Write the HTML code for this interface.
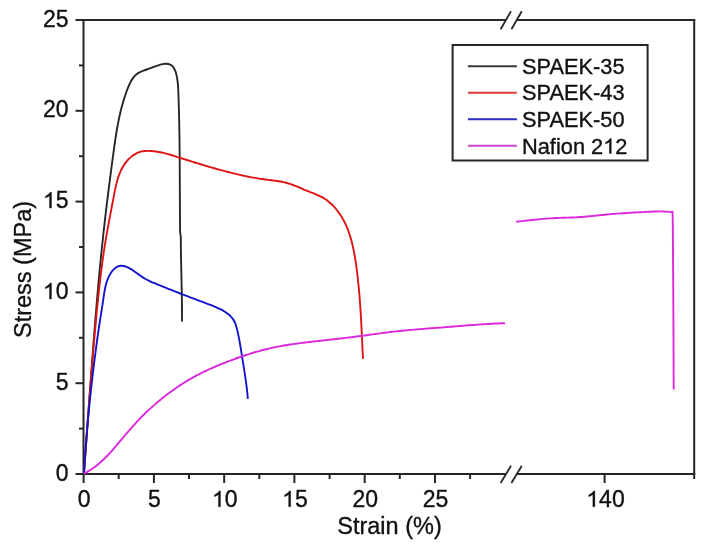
<!DOCTYPE html>
<html><head><meta charset="utf-8"><style>
html,body{margin:0;padding:0;background:#fff;}
svg{display:block;will-change:transform;}
text{font-family:"Liberation Sans",sans-serif;fill:#111;stroke:#111;stroke-width:0.35px;}
.tk{font-size:23.0px;}
.tt{font-size:23.5px;}
.lg{font-size:21.8px;}
.h1{fill:transparent;stroke:none;}
.one{fill:#111;stroke:#111;stroke-width:0.35px;}
</style></head><body>
<svg width="707" height="549" viewBox="0 0 707 549">
<g stroke="#262626" stroke-width="2" fill="none" stroke-linecap="butt">
<line x1="83.5" y1="19" x2="83.5" y2="475"/>
<line x1="694.2" y1="19" x2="694.2" y2="479"/>
<line x1="83.5" y1="20" x2="505.8" y2="20"/>
<line x1="516.6" y1="20" x2="695.2" y2="20"/>
<line x1="83.5" y1="474" x2="505.8" y2="474"/>
<line x1="516.6" y1="474" x2="695.2" y2="474"/>
<line x1="75.5" y1="474.0" x2="83.5" y2="474.0"/>
<line x1="79.0" y1="428.6" x2="83.5" y2="428.6"/>
<line x1="75.5" y1="383.2" x2="83.5" y2="383.2"/>
<line x1="79.0" y1="337.8" x2="83.5" y2="337.8"/>
<line x1="75.5" y1="292.4" x2="83.5" y2="292.4"/>
<line x1="79.0" y1="247.0" x2="83.5" y2="247.0"/>
<line x1="75.5" y1="201.6" x2="83.5" y2="201.6"/>
<line x1="79.0" y1="156.2" x2="83.5" y2="156.2"/>
<line x1="75.5" y1="110.8" x2="83.5" y2="110.8"/>
<line x1="79.0" y1="65.4" x2="83.5" y2="65.4"/>
<line x1="75.5" y1="20.0" x2="83.5" y2="20.0"/>
<line x1="83.6" y1="474" x2="83.6" y2="483"/>
<line x1="118.7" y1="474" x2="118.7" y2="479"/>
<line x1="153.9" y1="474" x2="153.9" y2="483"/>
<line x1="189.0" y1="474" x2="189.0" y2="479"/>
<line x1="224.2" y1="474" x2="224.2" y2="483"/>
<line x1="259.3" y1="474" x2="259.3" y2="479"/>
<line x1="294.4" y1="474" x2="294.4" y2="483"/>
<line x1="329.6" y1="474" x2="329.6" y2="479"/>
<line x1="364.7" y1="474" x2="364.7" y2="483"/>
<line x1="399.8" y1="474" x2="399.8" y2="479"/>
<line x1="435.0" y1="474" x2="435.0" y2="483"/>
<line x1="470.1" y1="474" x2="470.1" y2="479"/>
<line x1="604.6" y1="474" x2="604.6" y2="483"/>
</g>
<g stroke="#262626" stroke-width="1.8" fill="none">
<line x1="500.6" y1="29.3" x2="511.0" y2="11.3"/>
<line x1="511.4" y1="29.3" x2="521.8" y2="11.3"/>
<line x1="500.6" y1="483.0" x2="511.0" y2="465.8"/>
<line x1="511.4" y1="483.0" x2="521.8" y2="465.8"/>
</g>
<path d="M83.86,473.49 C83.90,472.99 84.02,471.48 84.10,470.47 C84.17,469.47 84.25,468.46 84.33,467.46 C84.41,466.45 84.49,465.45 84.56,464.44 C84.64,463.43 84.72,462.43 84.79,461.42 C84.87,460.42 84.95,459.41 85.03,458.41 C85.10,457.40 85.18,456.40 85.25,455.39 C85.33,454.38 85.41,453.38 85.48,452.37 C85.56,451.37 85.63,450.36 85.71,449.36 C85.78,448.35 85.86,447.35 85.93,446.34 C86.01,445.33 86.08,444.33 86.16,443.32 C86.23,442.32 86.31,441.31 86.38,440.31 C86.46,439.30 86.53,438.29 86.60,437.29 C86.68,436.28 86.75,435.28 86.83,434.27 C86.90,433.26 86.97,432.26 87.05,431.25 C87.12,430.25 87.20,429.24 87.27,428.24 C87.34,427.23 87.42,426.22 87.49,425.22 C87.56,424.21 87.63,423.21 87.71,422.20 C87.78,421.19 87.85,420.19 87.93,419.18 C88.00,418.18 88.07,417.17 88.15,416.16 C88.22,415.16 88.29,414.15 88.36,413.15 C88.44,412.14 88.51,411.14 88.58,410.13 C88.66,409.12 88.73,408.12 88.80,407.11 C88.87,406.11 88.95,405.10 89.02,404.09 C89.09,403.09 89.16,402.08 89.24,401.08 C89.31,400.07 89.38,399.06 89.45,398.06 C89.53,397.05 89.60,396.05 89.67,395.04 C89.75,394.03 89.82,393.03 89.89,392.02 C89.96,391.02 90.04,390.01 90.11,389.00 C90.18,388.00 90.26,386.99 90.33,385.99 C90.40,384.98 90.47,383.97 90.55,382.97 C90.62,381.96 90.69,380.96 90.77,379.95 C90.84,378.94 90.91,377.94 90.99,376.93 C91.06,375.93 91.14,374.92 91.21,373.91 C91.28,372.91 91.36,371.90 91.43,370.90 C91.50,369.89 91.58,368.89 91.65,367.88 C91.73,366.87 91.80,365.87 91.88,364.86 C91.95,363.86 92.03,362.85 92.10,361.84 C92.18,360.84 92.25,359.83 92.33,358.83 C92.40,357.82 92.48,356.82 92.55,355.81 C92.63,354.80 92.70,353.80 92.78,352.79 C92.85,351.79 92.93,350.78 93.01,349.78 C93.08,348.77 93.16,347.76 93.24,346.76 C93.31,345.75 93.39,344.75 93.47,343.74 C93.54,342.74 93.62,341.73 93.70,340.72 C93.78,339.72 93.86,338.71 93.93,337.71 C94.01,336.70 94.09,335.70 94.17,334.69 C94.25,333.69 94.33,332.68 94.41,331.68 C94.48,330.67 94.56,329.66 94.64,328.66 C94.72,327.65 94.80,326.65 94.88,325.64 C94.96,324.64 95.04,323.63 95.13,322.63 C95.21,321.62 95.29,320.62 95.37,319.61 C95.45,318.61 95.53,317.60 95.62,316.60 C95.70,315.59 95.78,314.59 95.86,313.58 C95.95,312.58 96.03,311.57 96.11,310.57 C96.20,309.56 96.28,308.56 96.36,307.55 C96.45,306.55 96.53,305.54 96.62,304.54 C96.70,303.53 96.79,302.53 96.87,301.52 C96.96,300.52 97.05,299.51 97.13,298.51 C97.22,297.50 97.31,296.50 97.39,295.49 C97.48,294.49 97.57,293.48 97.66,292.48 C97.75,291.47 97.84,290.47 97.92,289.46 C98.01,288.46 98.10,287.46 98.19,286.45 C98.28,285.45 98.37,284.44 98.46,283.44 C98.56,282.43 98.65,281.43 98.74,280.42 C98.83,279.42 98.92,278.42 99.02,277.41 C99.11,276.41 99.20,275.40 99.30,274.40 C99.39,273.40 99.48,272.39 99.58,271.39 C99.67,270.38 99.77,269.38 99.87,268.38 C99.96,267.37 100.06,266.37 100.15,265.36 C100.25,264.36 100.35,263.36 100.45,262.35 C100.54,261.35 100.64,260.35 100.74,259.34 C100.84,258.34 100.94,257.33 101.04,256.33 C101.14,255.33 101.24,254.32 101.34,253.32 C101.44,252.32 101.55,251.31 101.65,250.31 C101.75,249.31 101.85,248.30 101.96,247.30 C102.06,246.30 102.17,245.29 102.27,244.29 C102.38,243.29 102.48,242.28 102.59,241.28 C102.69,240.28 102.80,239.28 102.91,238.27 C103.01,237.27 103.12,236.27 103.23,235.26 C103.34,234.26 103.45,233.26 103.56,232.26 C103.67,231.25 103.78,230.25 103.89,229.25 C104.00,228.25 104.11,227.24 104.23,226.24 C104.34,225.24 104.45,224.24 104.57,223.23 C104.68,222.23 104.80,221.23 104.91,220.23 C105.03,219.23 105.14,218.22 105.26,217.22 C105.38,216.22 105.49,215.22 105.61,214.22 C105.73,213.21 105.85,212.21 105.97,211.21 C106.09,210.21 106.21,209.21 106.33,208.21 C106.45,207.20 106.57,206.20 106.69,205.20 C106.81,204.20 106.93,203.20 107.06,202.20 C107.18,201.20 107.30,200.19 107.43,199.19 C107.55,198.19 107.67,197.19 107.80,196.19 C107.92,195.19 108.05,194.19 108.18,193.19 C108.30,192.19 108.43,191.19 108.55,190.18 C108.68,189.18 108.81,188.18 108.94,187.18 C109.06,186.18 109.19,185.18 109.32,184.18 C109.45,183.18 109.58,182.18 109.71,181.18 C109.84,180.18 109.97,179.18 110.10,178.18 C110.23,177.18 110.36,176.18 110.49,175.18 C110.62,174.18 110.75,173.18 110.88,172.18 C111.01,171.18 111.14,170.18 111.27,169.18 C111.41,168.18 111.54,167.18 111.67,166.18 C111.80,165.18 111.94,164.18 112.07,163.18 C112.20,162.18 112.34,161.18 112.47,160.18 C112.60,159.18 112.74,158.18 112.87,157.18 C113.00,156.19 113.14,155.19 113.27,154.19 C113.41,153.19 113.54,152.19 113.68,151.19 C113.81,150.19 113.95,149.19 114.09,148.19 C114.22,147.20 114.36,146.20 114.50,145.20 C114.64,144.20 114.79,143.21 114.93,142.21 C115.07,141.21 115.22,140.21 115.37,139.22 C115.52,138.22 115.67,137.23 115.83,136.23 C115.98,135.24 116.14,134.24 116.30,133.25 C116.46,132.25 116.63,131.26 116.80,130.27 C116.96,129.27 117.14,128.28 117.31,127.29 C117.49,126.30 117.67,125.31 117.86,124.32 C118.05,123.33 118.24,122.34 118.43,121.35 C118.63,120.36 118.83,119.38 119.04,118.39 C119.25,117.40 119.46,116.42 119.68,115.43 C119.90,114.45 120.13,113.47 120.36,112.48 C120.59,111.50 120.83,110.52 121.08,109.54 C121.32,108.56 121.58,107.58 121.84,106.60 C122.10,105.63 122.37,104.65 122.64,103.67 C122.92,102.70 123.21,101.73 123.50,100.75 C123.79,99.78 124.09,98.81 124.40,97.84 C124.71,96.87 125.03,95.90 125.36,94.94 C125.69,93.97 126.03,93.00 126.37,92.04 C126.72,91.08 127.08,90.11 127.45,89.16 C127.82,88.20 128.19,87.23 128.59,86.29 C128.98,85.35 129.39,84.40 129.83,83.49 C130.27,82.58 130.72,81.68 131.21,80.82 C131.70,79.96 132.22,79.13 132.78,78.34 C133.34,77.55 133.92,76.80 134.56,76.10 C135.20,75.41 135.88,74.75 136.62,74.17 C137.35,73.58 138.14,73.06 138.97,72.59 C139.79,72.12 140.68,71.71 141.59,71.32 C142.50,70.93 143.46,70.59 144.43,70.24 C145.40,69.89 146.40,69.57 147.41,69.23 C148.41,68.88 149.44,68.53 150.46,68.16 C151.49,67.79 152.52,67.38 153.54,67.00 C154.57,66.61 155.60,66.20 156.61,65.84 C157.63,65.48 158.65,65.12 159.65,64.83 C160.65,64.54 161.64,64.28 162.61,64.10 C163.58,63.93 164.55,63.80 165.48,63.78 C166.42,63.77 167.35,63.82 168.21,64.00 C169.07,64.18 169.92,64.46 170.66,64.87 C171.40,65.28 172.08,65.83 172.68,66.47 C173.28,67.11 173.79,67.89 174.25,68.71 C174.72,69.54 175.11,70.48 175.46,71.43 C175.81,72.39 176.09,73.42 176.35,74.45 C176.61,75.47 176.82,76.55 177.01,77.59 C177.20,78.64 177.35,79.68 177.49,80.72 C177.63,81.75 177.74,82.78 177.84,83.80 C177.94,84.82 178.01,85.84 178.08,86.85 C178.14,87.86 178.19,88.87 178.24,89.88 C178.29,90.88 178.33,91.89 178.37,92.89 C178.41,93.90 178.44,94.91 178.48,95.91 C178.51,96.92 178.55,97.92 178.58,98.93 C178.61,99.93 178.65,100.94 178.68,101.94 C178.71,102.95 178.74,103.96 178.77,104.96 C178.80,105.97 178.83,106.97 178.86,107.98 C178.89,108.99 178.91,109.99 178.94,111.00 C178.97,112.01 178.99,113.01 179.02,114.02 C179.04,115.03 179.06,116.03 179.09,117.04 C179.11,118.05 179.13,119.05 179.15,120.06 C179.18,121.07 179.20,122.08 179.22,123.08 C179.24,124.09 179.26,125.10 179.27,126.11 C179.29,127.11 179.31,128.12 179.33,129.13 C179.35,130.14 179.36,131.14 179.38,132.15 C179.39,133.16 179.41,134.17 179.42,135.17 C179.44,136.18 179.45,137.19 179.47,138.20 C179.48,139.21 179.49,140.21 179.51,141.22 C179.52,142.23 179.53,143.24 179.54,144.25 C179.55,145.26 179.56,146.26 179.58,147.27 C179.59,148.28 179.60,149.29 179.61,150.30 C179.62,151.31 179.62,152.31 179.63,153.32 C179.64,154.33 179.65,155.34 179.66,156.35 C179.67,157.36 179.67,158.37 179.68,159.37 C179.69,160.38 179.70,161.39 179.70,162.40 C179.71,163.41 179.72,164.42 179.72,165.43 C179.73,166.44 179.73,167.44 179.74,168.45 C179.75,169.46 179.75,170.47 179.76,171.48 C179.76,172.49 179.77,173.50 179.77,174.51 C179.78,175.52 179.78,176.52 179.79,177.53 C179.79,178.54 179.80,179.55 179.80,180.56 C179.80,181.57 179.81,182.58 179.81,183.59 C179.82,184.60 179.82,185.61 179.83,186.61 C179.83,187.62 179.83,188.63 179.84,189.64 C179.84,190.65 179.85,191.66 179.85,192.67 C179.86,193.68 179.86,194.69 179.86,195.69 C179.87,196.70 179.87,197.71 179.88,198.72 C179.88,199.73 179.89,200.74 179.89,201.75 C179.89,202.76 179.90,203.77 179.90,204.77 C179.91,205.78 179.91,206.79 179.92,207.80 C179.93,208.81 179.93,209.82 179.94,210.83 C179.94,211.83 179.95,212.84 179.95,213.85 C179.96,214.86 179.97,215.87 179.97,216.88 C179.98,217.89 179.99,218.89 180.00,219.90 C180.00,220.91 180.01,221.92 180.02,222.93 C180.03,223.94 180.04,224.94 180.04,225.95 C180.05,226.96 180.06,227.97 180.07,228.98 C180.08,229.98 179.98,230.66 180.10,232.00 C180.22,233.34 180.68,235.64 180.80,237.00 C180.92,238.36 180.81,239.09 180.81,240.13 C180.82,241.17 180.82,242.22 180.83,243.26 C180.84,244.30 180.85,245.35 180.86,246.39 C180.87,247.43 180.89,248.48 180.90,249.52 C180.91,250.56 180.93,251.61 180.95,252.65 C180.96,253.69 180.98,254.74 181.00,255.78 C181.01,256.82 181.03,257.87 181.05,258.91 C181.07,259.95 181.09,261.00 181.11,262.04 C181.13,263.08 181.16,264.12 181.18,265.17 C181.20,266.21 181.22,267.25 181.24,268.30 C181.27,269.34 181.29,270.38 181.31,271.43 C181.34,272.47 181.36,273.51 181.38,274.56 C181.41,275.60 181.43,276.64 181.45,277.68 C181.48,278.73 181.50,279.77 181.52,280.81 C181.55,281.86 181.57,282.90 181.59,283.94 C181.62,284.99 181.64,286.03 181.66,287.07 C181.68,288.12 181.70,289.16 181.72,290.20 C181.74,291.24 181.76,292.29 181.78,293.33 C181.80,294.37 181.82,295.42 181.84,296.46 C181.85,297.50 181.87,298.55 181.89,299.59 C181.90,300.63 181.92,301.68 181.93,302.72 C181.94,303.76 181.95,304.81 181.96,305.85 C181.97,306.89 181.98,307.94 181.99,308.98 C182.00,310.02 182.00,311.07 182.01,312.11 C182.01,313.15 182.02,314.20 182.02,315.24 C182.02,316.28 182.02,317.33 182.01,318.37 C182.01,319.41 182.00,320.98 182.00,321.50" fill="none" stroke="#262626" stroke-width="1.9" stroke-linejoin="round"/>
<path d="M83.97,473.53 C84.01,473.02 84.11,471.51 84.18,470.50 C84.25,469.50 84.32,468.49 84.39,467.48 C84.46,466.47 84.54,465.47 84.61,464.46 C84.68,463.45 84.75,462.45 84.82,461.44 C84.89,460.43 84.96,459.43 85.03,458.42 C85.10,457.41 85.17,456.41 85.24,455.40 C85.31,454.39 85.38,453.39 85.45,452.38 C85.52,451.37 85.60,450.37 85.67,449.36 C85.74,448.36 85.81,447.35 85.88,446.34 C85.95,445.34 86.02,444.33 86.10,443.33 C86.17,442.32 86.24,441.31 86.31,440.31 C86.38,439.30 86.45,438.30 86.53,437.29 C86.60,436.29 86.67,435.28 86.74,434.28 C86.81,433.27 86.89,432.27 86.96,431.26 C87.03,430.26 87.11,429.25 87.18,428.25 C87.25,427.24 87.32,426.24 87.40,425.23 C87.47,424.23 87.54,423.22 87.62,422.22 C87.69,421.21 87.76,420.21 87.84,419.20 C87.91,418.20 87.99,417.19 88.06,416.19 C88.14,415.18 88.21,414.18 88.28,413.17 C88.36,412.17 88.43,411.17 88.51,410.16 C88.58,409.16 88.66,408.15 88.73,407.15 C88.81,406.14 88.89,405.14 88.96,404.14 C89.04,403.13 89.11,402.13 89.19,401.12 C89.27,400.12 89.34,399.12 89.42,398.11 C89.50,397.11 89.57,396.10 89.65,395.10 C89.73,394.10 89.81,393.09 89.88,392.09 C89.96,391.08 90.04,390.08 90.12,389.08 C90.20,388.07 90.27,387.07 90.35,386.06 C90.43,385.06 90.51,384.06 90.59,383.05 C90.67,382.05 90.75,381.05 90.83,380.04 C90.91,379.04 90.99,378.03 91.07,377.03 C91.15,376.03 91.23,375.02 91.31,374.02 C91.39,373.02 91.47,372.01 91.56,371.01 C91.64,370.00 91.72,369.00 91.80,368.00 C91.88,366.99 91.97,365.99 92.05,364.99 C92.13,363.98 92.21,362.98 92.30,361.98 C92.38,360.97 92.47,359.97 92.55,358.96 C92.63,357.96 92.72,356.96 92.80,355.95 C92.89,354.95 92.97,353.95 93.06,352.94 C93.14,351.94 93.23,350.93 93.32,349.93 C93.40,348.93 93.49,347.92 93.58,346.92 C93.66,345.91 93.75,344.91 93.84,343.91 C93.93,342.90 94.02,341.90 94.10,340.89 C94.19,339.89 94.28,338.89 94.37,337.88 C94.46,336.88 94.55,335.87 94.64,334.87 C94.73,333.87 94.82,332.86 94.91,331.86 C95.00,330.85 95.09,329.85 95.19,328.85 C95.28,327.84 95.37,326.84 95.46,325.83 C95.55,324.83 95.65,323.82 95.74,322.82 C95.83,321.81 95.93,320.81 96.02,319.81 C96.12,318.80 96.21,317.80 96.31,316.79 C96.40,315.79 96.50,314.78 96.59,313.78 C96.69,312.77 96.79,311.77 96.89,310.76 C96.98,309.76 97.08,308.75 97.18,307.75 C97.28,306.74 97.38,305.74 97.48,304.73 C97.58,303.73 97.68,302.73 97.78,301.72 C97.88,300.72 97.98,299.71 98.09,298.71 C98.19,297.70 98.29,296.70 98.40,295.69 C98.51,294.69 98.61,293.69 98.72,292.68 C98.83,291.68 98.93,290.68 99.04,289.67 C99.15,288.67 99.26,287.67 99.37,286.66 C99.49,285.66 99.60,284.66 99.71,283.65 C99.83,282.65 99.94,281.65 100.06,280.65 C100.17,279.65 100.29,278.64 100.41,277.64 C100.53,276.64 100.65,275.64 100.77,274.64 C100.89,273.64 101.02,272.64 101.14,271.64 C101.27,270.64 101.39,269.64 101.52,268.64 C101.65,267.64 101.78,266.64 101.91,265.64 C102.04,264.64 102.17,263.65 102.31,262.65 C102.44,261.65 102.58,260.65 102.72,259.66 C102.85,258.66 102.99,257.67 103.13,256.67 C103.28,255.67 103.42,254.68 103.56,253.68 C103.71,252.69 103.86,251.70 104.01,250.70 C104.16,249.71 104.31,248.72 104.46,247.72 C104.61,246.73 104.77,245.74 104.93,244.75 C105.08,243.76 105.24,242.77 105.41,241.78 C105.57,240.79 105.73,239.80 105.90,238.81 C106.06,237.82 106.23,236.83 106.40,235.84 C106.57,234.86 106.74,233.87 106.92,232.88 C107.09,231.90 107.27,230.91 107.45,229.92 C107.62,228.94 107.80,227.95 107.98,226.96 C108.17,225.98 108.35,224.99 108.53,224.00 C108.71,223.02 108.90,222.03 109.08,221.04 C109.27,220.05 109.46,219.07 109.64,218.08 C109.83,217.09 110.02,216.10 110.21,215.11 C110.40,214.12 110.59,213.13 110.78,212.14 C110.97,211.15 111.16,210.15 111.35,209.16 C111.54,208.17 111.73,207.17 111.92,206.18 C112.11,205.18 112.30,204.18 112.50,203.18 C112.69,202.18 112.88,201.18 113.07,200.18 C113.26,199.18 113.45,198.17 113.64,197.17 C113.83,196.16 114.02,195.16 114.21,194.15 C114.40,193.14 114.60,192.13 114.80,191.13 C115.00,190.12 115.20,189.12 115.42,188.12 C115.63,187.12 115.85,186.12 116.09,185.13 C116.32,184.14 116.56,183.15 116.82,182.17 C117.08,181.19 117.35,180.22 117.64,179.26 C117.93,178.29 118.23,177.33 118.56,176.39 C118.89,175.44 119.23,174.51 119.60,173.58 C119.96,172.66 120.35,171.75 120.77,170.85 C121.18,169.95 121.62,169.07 122.09,168.20 C122.56,167.33 123.05,166.48 123.58,165.64 C124.10,164.80 124.66,163.98 125.25,163.18 C125.84,162.38 126.47,161.60 127.12,160.84 C127.78,160.08 128.48,159.34 129.20,158.64 C129.92,157.93 130.68,157.25 131.46,156.62 C132.25,155.99 133.06,155.39 133.90,154.84 C134.74,154.30 135.60,153.79 136.49,153.35 C137.38,152.91 138.30,152.51 139.23,152.18 C140.16,151.86 141.12,151.59 142.09,151.39 C143.07,151.19 144.06,151.06 145.06,150.96 C146.06,150.87 147.08,150.84 148.09,150.84 C149.11,150.84 150.13,150.89 151.15,150.96 C152.17,151.03 153.19,151.14 154.20,151.27 C155.21,151.39 156.21,151.54 157.21,151.70 C158.21,151.86 159.20,152.05 160.19,152.25 C161.17,152.45 162.16,152.66 163.14,152.89 C164.11,153.12 165.09,153.37 166.06,153.62 C167.03,153.87 168.00,154.14 168.97,154.42 C169.93,154.69 170.89,154.98 171.86,155.26 C172.82,155.55 173.78,155.85 174.74,156.15 C175.70,156.45 176.65,156.75 177.61,157.05 C178.57,157.36 179.53,157.66 180.48,157.97 C181.44,158.27 182.40,158.57 183.36,158.88 C184.32,159.18 185.27,159.48 186.23,159.78 C187.19,160.08 188.15,160.39 189.11,160.69 C190.07,160.99 191.03,161.29 191.99,161.58 C192.95,161.88 193.91,162.18 194.87,162.48 C195.83,162.77 196.79,163.07 197.75,163.37 C198.71,163.66 199.67,163.95 200.64,164.25 C201.60,164.54 202.56,164.83 203.52,165.12 C204.49,165.41 205.45,165.69 206.42,165.98 C207.38,166.27 208.35,166.55 209.31,166.83 C210.28,167.12 211.24,167.40 212.21,167.68 C213.18,167.95 214.14,168.23 215.11,168.51 C216.08,168.78 217.05,169.05 218.02,169.32 C218.99,169.59 219.96,169.86 220.93,170.13 C221.90,170.39 222.87,170.66 223.85,170.92 C224.82,171.18 225.79,171.44 226.77,171.69 C227.74,171.95 228.72,172.20 229.69,172.45 C230.67,172.70 231.65,172.94 232.62,173.18 C233.60,173.42 234.58,173.66 235.56,173.90 C236.54,174.13 237.52,174.36 238.50,174.59 C239.48,174.81 240.47,175.04 241.45,175.25 C242.43,175.47 243.42,175.68 244.41,175.89 C245.39,176.10 246.38,176.30 247.37,176.50 C248.35,176.70 249.34,176.89 250.33,177.08 C251.32,177.27 252.32,177.45 253.31,177.63 C254.30,177.80 255.30,177.97 256.29,178.14 C257.29,178.30 258.28,178.46 259.28,178.61 C260.28,178.77 261.28,178.91 262.28,179.05 C263.28,179.19 264.28,179.32 265.28,179.45 C266.28,179.58 267.29,179.71 268.29,179.83 C269.29,179.96 270.29,180.08 271.29,180.21 C272.30,180.33 273.30,180.46 274.29,180.60 C275.29,180.74 276.29,180.88 277.28,181.03 C278.27,181.18 279.27,181.34 280.25,181.52 C281.24,181.70 282.22,181.88 283.20,182.09 C284.18,182.30 285.15,182.52 286.12,182.76 C287.09,183.00 288.05,183.26 289.01,183.55 C289.97,183.84 290.92,184.15 291.86,184.48 C292.81,184.81 293.74,185.17 294.68,185.54 C295.61,185.91 296.54,186.30 297.47,186.69 C298.40,187.09 299.33,187.50 300.25,187.90 C301.18,188.31 302.11,188.72 303.04,189.13 C303.97,189.53 304.90,189.94 305.83,190.33 C306.77,190.72 307.71,191.10 308.65,191.47 C309.59,191.84 310.54,192.20 311.48,192.56 C312.42,192.93 313.37,193.28 314.30,193.66 C315.24,194.03 316.17,194.40 317.10,194.80 C318.02,195.20 318.93,195.60 319.84,196.04 C320.74,196.47 321.63,196.93 322.50,197.42 C323.37,197.91 324.23,198.44 325.07,198.99 C325.91,199.55 326.73,200.14 327.53,200.75 C328.33,201.37 329.12,202.02 329.88,202.68 C330.65,203.35 331.39,204.04 332.12,204.76 C332.84,205.47 333.55,206.20 334.23,206.95 C334.92,207.70 335.58,208.46 336.22,209.24 C336.87,210.02 337.49,210.81 338.09,211.61 C338.69,212.41 339.27,213.22 339.83,214.05 C340.39,214.87 340.93,215.71 341.45,216.55 C341.98,217.40 342.48,218.26 342.96,219.12 C343.45,219.99 343.92,220.86 344.37,221.75 C344.82,222.63 345.25,223.53 345.67,224.43 C346.09,225.33 346.49,226.24 346.87,227.16 C347.26,228.08 347.63,229.01 347.99,229.94 C348.35,230.87 348.69,231.81 349.02,232.76 C349.35,233.71 349.66,234.66 349.96,235.62 C350.27,236.58 350.56,237.54 350.84,238.51 C351.11,239.48 351.38,240.46 351.64,241.43 C351.89,242.41 352.14,243.40 352.38,244.39 C352.61,245.37 352.84,246.36 353.05,247.36 C353.27,248.35 353.48,249.35 353.68,250.35 C353.88,251.35 354.07,252.35 354.25,253.36 C354.44,254.36 354.61,255.37 354.79,256.38 C354.96,257.38 355.12,258.39 355.28,259.40 C355.44,260.41 355.59,261.42 355.74,262.43 C355.89,263.44 356.03,264.45 356.17,265.46 C356.31,266.47 356.45,267.47 356.59,268.48 C356.72,269.49 356.85,270.49 356.98,271.50 C357.10,272.50 357.23,273.51 357.35,274.51 C357.47,275.51 357.58,276.52 357.70,277.52 C357.81,278.52 357.92,279.52 358.03,280.53 C358.14,281.53 358.24,282.53 358.34,283.53 C358.45,284.53 358.55,285.53 358.64,286.53 C358.74,287.53 358.83,288.53 358.93,289.53 C359.02,290.53 359.11,291.52 359.19,292.52 C359.28,293.52 359.36,294.52 359.45,295.52 C359.53,296.52 359.61,297.51 359.69,298.51 C359.77,299.51 359.84,300.51 359.92,301.51 C359.99,302.50 360.06,303.50 360.13,304.50 C360.20,305.50 360.27,306.49 360.34,307.49 C360.40,308.49 360.47,309.49 360.53,310.49 C360.60,311.49 360.66,312.48 360.72,313.48 C360.78,314.48 360.84,315.48 360.90,316.48 C360.96,317.48 361.01,318.48 361.07,319.48 C361.13,320.48 361.18,321.48 361.23,322.48 C361.29,323.48 361.34,324.49 361.39,325.49 C361.44,326.49 361.50,327.49 361.55,328.50 C361.60,329.50 361.65,330.50 361.70,331.51 C361.75,332.51 361.80,333.52 361.84,334.53 C361.89,335.53 361.94,336.54 361.99,337.55 C362.04,338.56 362.08,339.56 362.13,340.57 C362.18,341.58 362.23,342.59 362.27,343.61 C362.32,344.62 362.37,345.63 362.42,346.65 C362.47,347.66 362.51,348.67 362.56,349.69 C362.61,350.71 362.66,351.72 362.71,352.74 C362.76,353.76 362.81,354.78 362.86,355.80 C362.91,356.82 362.98,358.36 363.01,358.87" fill="none" stroke="#de1414" stroke-width="1.9" stroke-linejoin="round"/>
<path d="M84.04,473.53 C84.07,473.02 84.15,471.49 84.20,470.48 C84.26,469.46 84.32,468.45 84.37,467.43 C84.43,466.42 84.49,465.40 84.55,464.39 C84.61,463.37 84.68,462.36 84.74,461.35 C84.80,460.33 84.87,459.32 84.93,458.30 C85.00,457.29 85.06,456.28 85.13,455.27 C85.20,454.25 85.27,453.24 85.34,452.23 C85.41,451.21 85.48,450.20 85.55,449.19 C85.62,448.18 85.70,447.17 85.77,446.16 C85.85,445.14 85.92,444.13 86.00,443.12 C86.08,442.11 86.15,441.10 86.23,440.09 C86.31,439.08 86.39,438.07 86.47,437.06 C86.55,436.05 86.64,435.04 86.72,434.03 C86.80,433.02 86.89,432.01 86.97,431.00 C87.06,429.99 87.14,428.98 87.23,427.97 C87.32,426.96 87.41,425.95 87.50,424.94 C87.58,423.93 87.68,422.92 87.77,421.91 C87.86,420.90 87.95,419.90 88.04,418.89 C88.14,417.88 88.23,416.87 88.33,415.86 C88.42,414.85 88.52,413.84 88.62,412.84 C88.71,411.83 88.81,410.82 88.91,409.81 C89.01,408.80 89.11,407.79 89.21,406.79 C89.31,405.78 89.41,404.77 89.52,403.76 C89.62,402.75 89.72,401.74 89.83,400.74 C89.93,399.73 90.04,398.72 90.14,397.71 C90.25,396.70 90.36,395.70 90.47,394.69 C90.57,393.68 90.68,392.67 90.79,391.66 C90.90,390.65 91.01,389.65 91.12,388.64 C91.24,387.63 91.35,386.62 91.46,385.61 C91.57,384.60 91.69,383.60 91.80,382.59 C91.92,381.58 92.03,380.57 92.15,379.56 C92.27,378.55 92.38,377.54 92.50,376.54 C92.62,375.53 92.74,374.52 92.86,373.51 C92.98,372.50 93.10,371.49 93.22,370.48 C93.34,369.47 93.46,368.46 93.58,367.45 C93.70,366.44 93.83,365.44 93.95,364.43 C94.08,363.42 94.20,362.41 94.33,361.40 C94.45,360.39 94.58,359.38 94.71,358.37 C94.83,357.36 94.96,356.35 95.09,355.35 C95.22,354.34 95.35,353.33 95.48,352.32 C95.61,351.31 95.75,350.31 95.88,349.30 C96.01,348.29 96.15,347.29 96.28,346.28 C96.42,345.27 96.55,344.27 96.69,343.26 C96.83,342.26 96.97,341.25 97.10,340.25 C97.24,339.25 97.38,338.24 97.53,337.24 C97.67,336.24 97.81,335.24 97.96,334.23 C98.10,333.23 98.24,332.23 98.39,331.23 C98.54,330.23 98.68,329.24 98.83,328.24 C98.98,327.24 99.13,326.24 99.28,325.25 C99.43,324.25 99.59,323.26 99.74,322.26 C99.89,321.27 100.05,320.28 100.20,319.28 C100.36,318.29 100.52,317.30 100.67,316.31 C100.83,315.31 100.99,314.32 101.14,313.32 C101.30,312.33 101.46,311.33 101.61,310.33 C101.77,309.33 101.93,308.33 102.08,307.33 C102.24,306.33 102.39,305.32 102.54,304.31 C102.70,303.30 102.85,302.29 103.00,301.27 C103.15,300.26 103.30,299.23 103.44,298.21 C103.59,297.19 103.74,296.16 103.89,295.13 C104.05,294.10 104.21,293.08 104.38,292.05 C104.55,291.03 104.73,290.01 104.93,288.99 C105.14,287.98 105.35,286.97 105.59,285.97 C105.83,284.97 106.09,283.98 106.38,283.00 C106.67,282.02 106.98,281.05 107.33,280.10 C107.68,279.15 108.06,278.22 108.49,277.30 C108.91,276.39 109.37,275.49 109.87,274.61 C110.38,273.74 110.93,272.87 111.52,272.05 C112.12,271.23 112.77,270.41 113.46,269.69 C114.14,268.96 114.88,268.27 115.65,267.71 C116.42,267.15 117.24,266.66 118.09,266.34 C118.93,266.01 119.83,265.82 120.73,265.76 C121.64,265.69 122.59,265.79 123.54,265.97 C124.48,266.14 125.45,266.45 126.39,266.80 C127.34,267.16 128.29,267.61 129.21,268.09 C130.13,268.56 131.03,269.10 131.91,269.66 C132.79,270.21 133.65,270.81 134.51,271.41 C135.36,272.01 136.20,272.64 137.05,273.25 C137.89,273.87 138.73,274.50 139.57,275.11 C140.42,275.71 141.26,276.32 142.12,276.89 C142.98,277.45 143.85,278.00 144.74,278.51 C145.62,279.02 146.52,279.50 147.42,279.97 C148.32,280.43 149.24,280.87 150.16,281.30 C151.08,281.72 152.00,282.13 152.93,282.53 C153.86,282.93 154.80,283.32 155.73,283.71 C156.66,284.10 157.60,284.48 158.54,284.86 C159.47,285.24 160.41,285.63 161.34,286.01 C162.28,286.38 163.21,286.76 164.15,287.14 C165.08,287.52 166.02,287.89 166.96,288.26 C167.89,288.64 168.83,289.01 169.77,289.38 C170.71,289.75 171.64,290.12 172.58,290.49 C173.52,290.86 174.46,291.23 175.40,291.60 C176.34,291.96 177.28,292.33 178.22,292.69 C179.16,293.06 180.10,293.42 181.04,293.79 C181.98,294.15 182.93,294.52 183.87,294.88 C184.81,295.24 185.76,295.60 186.70,295.97 C187.65,296.33 188.60,296.69 189.54,297.05 C190.49,297.41 191.44,297.77 192.39,298.13 C193.33,298.49 194.28,298.85 195.23,299.21 C196.19,299.57 197.14,299.93 198.09,300.29 C199.04,300.65 200.00,301.01 200.95,301.37 C201.91,301.73 202.86,302.09 203.82,302.45 C204.78,302.81 205.74,303.17 206.70,303.54 C207.66,303.90 208.62,304.26 209.58,304.62 C210.54,304.99 211.50,305.36 212.45,305.73 C213.41,306.11 214.36,306.49 215.30,306.89 C216.24,307.29 217.18,307.70 218.10,308.13 C219.02,308.56 219.93,309.00 220.83,309.46 C221.72,309.93 222.61,310.41 223.47,310.92 C224.33,311.44 225.18,311.97 226.00,312.54 C226.82,313.11 227.63,313.70 228.41,314.33 C229.18,314.96 229.94,315.62 230.64,316.33 C231.34,317.03 232.02,317.77 232.61,318.56 C233.20,319.34 233.74,320.18 234.20,321.05 C234.67,321.91 235.05,322.84 235.41,323.77 C235.76,324.71 236.05,325.69 236.33,326.66 C236.62,327.64 236.86,328.64 237.11,329.63 C237.35,330.62 237.59,331.61 237.81,332.60 C238.04,333.60 238.25,334.59 238.46,335.59 C238.66,336.59 238.86,337.59 239.06,338.59 C239.25,339.59 239.43,340.59 239.61,341.59 C239.79,342.60 239.97,343.60 240.14,344.60 C240.31,345.61 240.48,346.61 240.64,347.61 C240.81,348.62 240.97,349.62 241.13,350.63 C241.29,351.63 241.45,352.63 241.61,353.64 C241.77,354.64 241.92,355.64 242.08,356.64 C242.24,357.65 242.41,358.65 242.57,359.65 C242.73,360.65 242.89,361.65 243.05,362.65 C243.21,363.65 243.37,364.65 243.53,365.65 C243.69,366.64 243.85,367.64 244.01,368.64 C244.17,369.64 244.32,370.64 244.48,371.64 C244.63,372.64 244.78,373.64 244.93,374.64 C245.08,375.64 245.23,376.64 245.38,377.64 C245.52,378.64 245.67,379.64 245.81,380.65 C245.95,381.65 246.08,382.65 246.22,383.66 C246.35,384.66 246.48,385.67 246.60,386.67 C246.72,387.68 246.85,388.69 246.96,389.70 C247.08,390.71 247.19,391.72 247.29,392.73 C247.40,393.74 247.50,394.75 247.59,395.77 C247.69,396.78 247.81,398.31 247.86,398.82" fill="none" stroke="#1414cc" stroke-width="1.9" stroke-linejoin="round"/>
<path d="M83.96,473.60 C84.41,473.36 85.79,472.66 86.69,472.17 C87.58,471.67 88.46,471.15 89.32,470.62 C90.18,470.09 91.03,469.54 91.87,468.97 C92.70,468.41 93.52,467.83 94.33,467.23 C95.14,466.64 95.94,466.03 96.72,465.41 C97.51,464.79 98.28,464.15 99.04,463.50 C99.80,462.86 100.55,462.20 101.29,461.53 C102.04,460.86 102.77,460.18 103.49,459.48 C104.21,458.79 104.93,458.09 105.63,457.38 C106.34,456.68 107.04,455.96 107.73,455.23 C108.42,454.51 109.11,453.77 109.79,453.04 C110.47,452.30 111.15,451.55 111.82,450.80 C112.49,450.05 113.15,449.30 113.81,448.54 C114.48,447.78 115.13,447.02 115.79,446.25 C116.45,445.49 117.10,444.72 117.75,443.95 C118.40,443.18 119.05,442.41 119.71,441.64 C120.36,440.87 121.00,440.10 121.65,439.33 C122.30,438.55 122.95,437.78 123.60,437.01 C124.25,436.24 124.90,435.47 125.56,434.70 C126.21,433.93 126.86,433.16 127.51,432.39 C128.17,431.62 128.82,430.86 129.48,430.10 C130.14,429.33 130.80,428.57 131.47,427.81 C132.13,427.06 132.80,426.30 133.47,425.55 C134.14,424.80 134.81,424.05 135.49,423.31 C136.17,422.56 136.85,421.82 137.54,421.09 C138.23,420.35 138.92,419.62 139.62,418.90 C140.31,418.17 141.01,417.45 141.72,416.74 C142.43,416.02 143.14,415.31 143.86,414.60 C144.57,413.90 145.29,413.20 146.02,412.50 C146.74,411.80 147.47,411.11 148.21,410.42 C148.94,409.73 149.68,409.05 150.43,408.37 C151.17,407.69 151.92,407.02 152.67,406.35 C153.42,405.68 154.18,405.01 154.94,404.35 C155.70,403.69 156.47,403.03 157.24,402.38 C158.00,401.73 158.78,401.08 159.56,400.44 C160.33,399.80 161.11,399.16 161.90,398.53 C162.69,397.89 163.48,397.27 164.27,396.64 C165.06,396.02 165.86,395.40 166.66,394.79 C167.46,394.18 168.27,393.57 169.08,392.97 C169.89,392.37 170.70,391.77 171.52,391.18 C172.34,390.59 173.16,390.00 173.98,389.42 C174.81,388.84 175.64,388.27 176.47,387.70 C177.30,387.13 178.14,386.57 178.98,386.01 C179.82,385.45 180.66,384.90 181.51,384.36 C182.36,383.81 183.21,383.27 184.07,382.74 C184.92,382.20 185.78,381.68 186.64,381.16 C187.50,380.64 188.37,380.12 189.24,379.61 C190.11,379.10 190.98,378.60 191.85,378.11 C192.73,377.61 193.61,377.12 194.49,376.64 C195.38,376.16 196.26,375.68 197.15,375.21 C198.04,374.74 198.93,374.28 199.83,373.82 C200.73,373.37 201.62,372.92 202.53,372.47 C203.43,372.03 204.33,371.59 205.24,371.16 C206.15,370.72 207.06,370.30 207.97,369.87 C208.89,369.45 209.80,369.04 210.72,368.62 C211.64,368.21 212.56,367.81 213.48,367.40 C214.40,367.00 215.33,366.60 216.26,366.21 C217.18,365.82 218.11,365.43 219.04,365.05 C219.97,364.66 220.91,364.28 221.84,363.90 C222.78,363.53 223.71,363.16 224.65,362.79 C225.59,362.42 226.53,362.05 227.47,361.69 C228.41,361.33 229.36,360.97 230.30,360.61 C231.24,360.26 232.19,359.90 233.14,359.55 C234.08,359.20 235.03,358.86 235.98,358.51 C236.93,358.17 237.88,357.83 238.83,357.49 C239.78,357.16 240.73,356.82 241.69,356.50 C242.64,356.17 243.60,355.84 244.56,355.52 C245.51,355.20 246.47,354.89 247.43,354.58 C248.39,354.27 249.35,353.96 250.31,353.66 C251.27,353.36 252.24,353.06 253.20,352.77 C254.17,352.48 255.13,352.19 256.10,351.91 C257.07,351.63 258.04,351.35 259.01,351.08 C259.98,350.81 260.95,350.55 261.92,350.29 C262.89,350.03 263.87,349.78 264.84,349.53 C265.82,349.29 266.80,349.05 267.78,348.82 C268.76,348.58 269.74,348.36 270.72,348.14 C271.70,347.92 272.68,347.70 273.66,347.50 C274.65,347.29 275.63,347.09 276.62,346.89 C277.61,346.70 278.60,346.51 279.58,346.32 C280.57,346.14 281.56,345.96 282.55,345.79 C283.54,345.61 284.54,345.44 285.53,345.28 C286.52,345.11 287.52,344.95 288.51,344.80 C289.51,344.64 290.50,344.49 291.50,344.34 C292.49,344.19 293.49,344.05 294.49,343.90 C295.48,343.76 296.48,343.63 297.48,343.49 C298.48,343.35 299.48,343.22 300.48,343.09 C301.48,342.96 302.48,342.84 303.48,342.71 C304.48,342.59 305.48,342.46 306.48,342.34 C307.48,342.22 308.48,342.10 309.48,341.98 C310.48,341.86 311.49,341.75 312.49,341.63 C313.49,341.52 314.49,341.40 315.49,341.29 C316.49,341.17 317.50,341.06 318.50,340.95 C319.50,340.83 320.50,340.72 321.50,340.61 C322.50,340.50 323.51,340.39 324.51,340.28 C325.51,340.17 326.51,340.05 327.51,339.94 C328.52,339.83 329.52,339.72 330.52,339.61 C331.52,339.50 332.52,339.39 333.52,339.28 C334.53,339.17 335.53,339.05 336.53,338.94 C337.53,338.83 338.53,338.71 339.53,338.60 C340.53,338.49 341.53,338.37 342.54,338.26 C343.54,338.14 344.54,338.02 345.54,337.91 C346.54,337.79 347.54,337.67 348.54,337.55 C349.54,337.43 350.54,337.30 351.54,337.18 C352.54,337.06 353.54,336.93 354.54,336.81 C355.54,336.68 356.54,336.55 357.54,336.42 C358.53,336.29 359.53,336.16 360.53,336.02 C361.53,335.89 362.53,335.76 363.53,335.62 C364.53,335.49 365.52,335.35 366.52,335.21 C367.52,335.08 368.52,334.94 369.52,334.80 C370.51,334.67 371.51,334.53 372.51,334.39 C373.51,334.26 374.51,334.12 375.50,333.98 C376.50,333.85 377.50,333.71 378.50,333.58 C379.50,333.44 380.50,333.31 381.49,333.17 C382.49,333.04 383.49,332.91 384.49,332.78 C385.49,332.65 386.49,332.52 387.49,332.39 C388.49,332.27 389.49,332.14 390.48,332.02 C391.48,331.90 392.48,331.78 393.48,331.66 C394.49,331.54 395.49,331.43 396.49,331.32 C397.49,331.20 398.49,331.09 399.49,330.99 C400.49,330.88 401.49,330.78 402.50,330.68 C403.50,330.58 404.50,330.48 405.50,330.38 C406.51,330.29 407.51,330.19 408.51,330.10 C409.52,330.01 410.52,329.92 411.53,329.83 C412.53,329.75 413.53,329.66 414.54,329.58 C415.54,329.49 416.55,329.41 417.55,329.33 C418.56,329.25 419.56,329.16 420.57,329.09 C421.57,329.01 422.58,328.93 423.58,328.85 C424.59,328.77 425.59,328.69 426.60,328.62 C427.60,328.54 428.61,328.46 429.61,328.39 C430.62,328.31 431.62,328.23 432.63,328.16 C433.63,328.08 434.64,328.01 435.64,327.93 C436.65,327.85 437.65,327.77 438.66,327.70 C439.66,327.62 440.67,327.54 441.67,327.46 C442.68,327.38 443.68,327.30 444.69,327.22 C445.69,327.14 446.70,327.06 447.70,326.98 C448.71,326.89 449.71,326.81 450.72,326.73 C451.72,326.65 452.72,326.57 453.73,326.48 C454.73,326.40 455.74,326.32 456.74,326.24 C457.75,326.16 458.75,326.07 459.76,325.99 C460.76,325.91 461.76,325.83 462.77,325.75 C463.77,325.67 464.78,325.59 465.78,325.51 C466.79,325.43 467.79,325.36 468.79,325.28 C469.80,325.20 470.80,325.12 471.81,325.05 C472.81,324.97 473.82,324.90 474.82,324.83 C475.83,324.75 476.83,324.68 477.84,324.61 C478.84,324.54 479.85,324.48 480.85,324.41 C481.86,324.34 482.86,324.28 483.87,324.21 C484.87,324.15 485.88,324.09 486.88,324.03 C487.89,323.97 488.89,323.91 489.90,323.86 C490.91,323.80 491.91,323.75 492.92,323.70 C493.92,323.65 494.93,323.60 495.94,323.56 C496.94,323.51 497.95,323.47 498.96,323.43 C499.96,323.39 500.97,323.35 501.98,323.31 C502.98,323.28 504.50,323.24 505.00,323.22" fill="none" stroke="#dc28dc" stroke-width="1.9" stroke-linejoin="round"/>
<path d="M516.21,221.78 C516.72,221.73 518.25,221.55 519.26,221.43 C520.28,221.31 521.30,221.19 522.32,221.08 C523.34,220.96 524.36,220.85 525.38,220.73 C526.40,220.62 527.42,220.50 528.44,220.39 C529.46,220.28 530.48,220.17 531.50,220.06 C532.52,219.95 533.54,219.85 534.56,219.74 C535.58,219.64 536.60,219.54 537.62,219.44 C538.64,219.34 539.66,219.25 540.68,219.15 C541.71,219.06 542.73,218.97 543.75,218.89 C544.77,218.80 545.79,218.72 546.82,218.64 C547.84,218.56 548.86,218.48 549.88,218.41 C550.91,218.34 551.93,218.28 552.95,218.21 C553.98,218.15 555.00,218.10 556.02,218.04 C557.05,217.99 558.07,217.94 559.10,217.90 C560.12,217.86 561.15,217.82 562.17,217.79 C563.20,217.75 564.22,217.73 565.25,217.69 C566.27,217.66 567.30,217.64 568.32,217.61 C569.35,217.57 570.37,217.54 571.40,217.51 C572.42,217.47 573.45,217.44 574.47,217.40 C575.50,217.35 576.52,217.31 577.54,217.25 C578.57,217.19 579.59,217.13 580.61,217.06 C581.63,216.99 582.66,216.91 583.68,216.82 C584.70,216.74 585.72,216.65 586.74,216.55 C587.76,216.45 588.78,216.35 589.81,216.24 C590.83,216.14 591.85,216.03 592.87,215.93 C593.89,215.82 594.91,215.71 595.93,215.60 C596.95,215.49 597.97,215.39 598.99,215.28 C600.01,215.18 601.03,215.08 602.05,214.98 C603.07,214.88 604.09,214.78 605.11,214.68 C606.13,214.58 607.16,214.49 608.18,214.39 C609.20,214.30 610.22,214.21 611.24,214.12 C612.26,214.03 613.28,213.95 614.30,213.86 C615.33,213.78 616.35,213.70 617.37,213.62 C618.39,213.54 619.41,213.46 620.43,213.39 C621.46,213.32 622.48,213.25 623.50,213.18 C624.52,213.11 625.54,213.04 626.57,212.98 C627.59,212.92 628.61,212.86 629.63,212.80 C630.65,212.74 631.68,212.68 632.70,212.63 C633.72,212.57 634.75,212.52 635.77,212.47 C636.79,212.42 637.82,212.36 638.84,212.31 C639.86,212.26 640.89,212.21 641.91,212.16 C642.93,212.11 643.96,212.06 644.98,212.01 C646.01,211.95 647.03,211.90 648.06,211.85 C649.08,211.79 650.11,211.74 651.13,211.68 C652.16,211.63 653.19,211.58 654.21,211.54 C655.23,211.49 656.26,211.45 657.28,211.43 C658.30,211.40 659.33,211.38 660.35,211.39 C661.37,211.39 662.38,211.40 663.40,211.44 C664.42,211.47 665.43,211.52 666.44,211.60 C667.45,211.68 668.46,211.78 669.47,211.91 C670.47,212.04 671.98,212.26 672.47,212.39 C672.96,212.52 672.34,210.60 672.40,212.70 C672.46,214.80 672.65,210.45 672.80,225.00 C672.95,239.55 673.15,272.58 673.30,300.00 C673.45,327.42 673.63,374.58 673.70,389.50" fill="none" stroke="#dc28dc" stroke-width="1.9" stroke-linejoin="round"/>
<rect x="452.6" y="45" width="195" height="115.5" fill="none" stroke="#262626" stroke-width="2"/>
<line x1="467.9" y1="66.2" x2="516.9" y2="66.2" stroke="#3a3a3a" stroke-width="2"/>
<text id="t1" x="522" y="73.8" class="lg">SPAEK-35</text>
<line x1="467.9" y1="92.8" x2="516.9" y2="92.8" stroke="#e03c3c" stroke-width="2"/>
<text id="t2" x="522" y="100.3" class="lg">SPAEK-43</text>
<line x1="467.9" y1="119.3" x2="516.9" y2="119.3" stroke="#2a2ac8" stroke-width="2"/>
<text id="t3" x="522" y="126.9" class="lg">SPAEK-50</text>
<line x1="467.9" y1="145.7" x2="516.9" y2="145.7" stroke="#d048d0" stroke-width="2"/>
<text id="t4" x="522" y="153.5" class="lg">Nafion 2<tspan class="h1">1</tspan>2</text>
<text id="t5" x="68.5" y="480.5" text-anchor="end" class="tk">0</text>
<text id="t6" x="68.5" y="389.7" text-anchor="end" class="tk">5</text>
<text id="t7" x="68.5" y="298.9" text-anchor="end" class="tk"><tspan class="h1">1</tspan>0</text>
<text id="t8" x="68.5" y="208.1" text-anchor="end" class="tk"><tspan class="h1">1</tspan>5</text>
<text id="t9" x="68.5" y="117.3" text-anchor="end" class="tk">20</text>
<text id="t10" x="68.5" y="26.5" text-anchor="end" class="tk">25</text>
<text id="t11" x="84.1" y="506.8" text-anchor="middle" class="tk">0</text>
<text id="t12" x="154.4" y="506.8" text-anchor="middle" class="tk">5</text>
<text id="t13" x="224.7" y="506.8" text-anchor="middle" class="tk"><tspan class="h1">1</tspan>0</text>
<text id="t14" x="294.9" y="506.8" text-anchor="middle" class="tk"><tspan class="h1">1</tspan>5</text>
<text id="t15" x="365.2" y="506.8" text-anchor="middle" class="tk">20</text>
<text id="t16" x="435.5" y="506.8" text-anchor="middle" class="tk">25</text>
<text id="t17" x="605.5" y="506.8" text-anchor="middle" class="tk"><tspan class="h1">1</tspan>40</text>
<text id="t18" x="389.5" y="533.5" text-anchor="middle" class="tt">Strain (%)</text>
<text id="t19" x="0" y="0" text-anchor="middle" class="tt" transform="translate(30.5,269.5) rotate(-90)">Stress (MPa)</text>
<path d="M611.31,153.50L609.39,153.50L609.39,141.75Q608.70,142.39 607.57,143.02Q606.46,143.66 605.56,143.98L605.56,142.19Q607.17,141.47 608.37,140.43Q609.57,139.40 610.07,138.43L611.31,138.43Z" class="one"/>
<path d="M51.48,298.90L49.45,298.90L49.45,286.51Q48.72,287.18 47.53,287.85Q46.35,288.52 45.41,288.85L45.41,286.97Q47.11,286.21 48.38,285.11Q49.64,284.02 50.17,283.00L51.48,283.00Z" class="one"/>
<path d="M51.48,208.10L49.45,208.10L49.45,195.71Q48.72,196.38 47.53,197.05Q46.35,197.72 45.41,198.05L45.41,196.17Q47.11,195.41 48.38,194.31Q49.64,193.22 50.17,192.20L51.48,192.20Z" class="one"/>
<path d="M220.47,506.80L218.45,506.80L218.45,494.41Q217.72,495.08 216.53,495.75Q215.35,496.42 214.41,496.75L214.41,494.87Q216.10,494.11 217.37,493.01Q218.64,491.92 219.17,490.90L220.47,490.90Z" class="one"/>
<path d="M290.67,506.80L288.65,506.80L288.65,494.41Q287.92,495.08 286.73,495.75Q285.55,496.42 284.61,496.75L284.61,494.87Q286.30,494.11 287.57,493.01Q288.84,491.92 289.37,490.90L290.67,490.90Z" class="one"/>
<path d="M594.87,506.80L592.85,506.80L592.85,494.41Q592.12,495.08 590.93,495.75Q589.75,496.42 588.81,496.75L588.81,494.87Q590.50,494.11 591.77,493.01Q593.04,491.92 593.57,490.90L594.87,490.90Z" class="one"/>
</svg>
</body></html>
